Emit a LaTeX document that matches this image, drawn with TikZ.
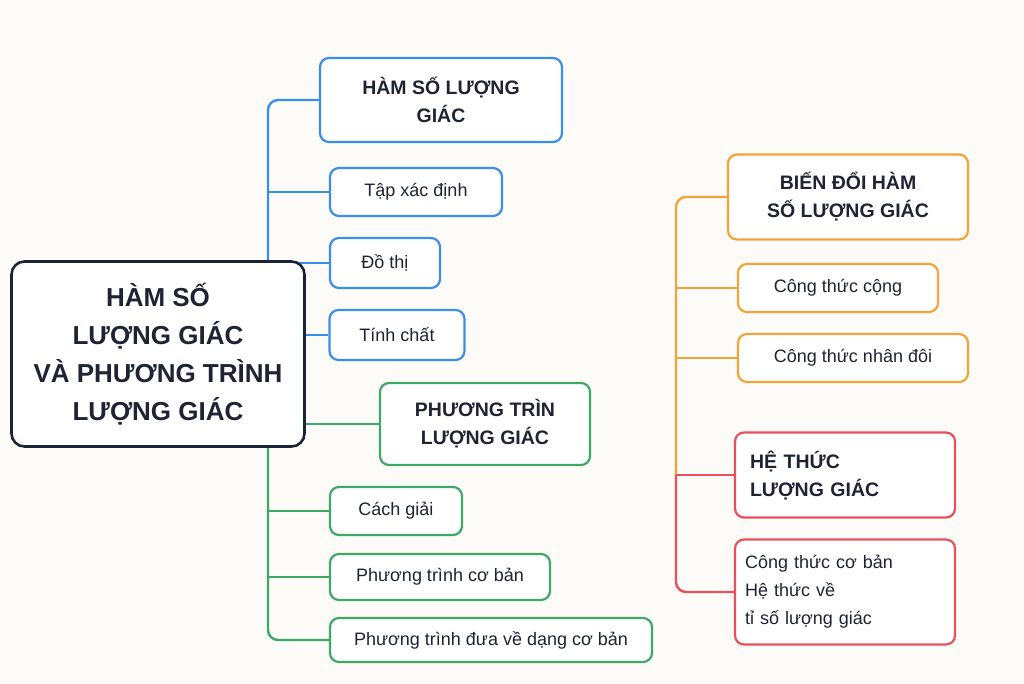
\documentclass[tikz,border=0pt]{standalone}
\usepackage{fontspec}
\setmainfont{Liberation Sans}
\usetikzlibrary{positioning,backgrounds}
\definecolor{bg}{HTML}{FCFBF7}
\definecolor{navy}{HTML}{1B2336}
\definecolor{cblue}{HTML}{3A8EE6}
\definecolor{cgreen}{HTML}{3DA86A}
\definecolor{corange}{HTML}{F2A33A}
\definecolor{cred}{HTML}{E8505B}
\definecolor{ink}{HTML}{1E2433}

\begin{document}
\begin{tikzpicture}[x=1pt,y=-1pt,
    box/.style={draw, rounded corners=9pt, line width=2.2pt, fill=white, text=ink,
      font=\fontsize{18}{22}\selectfont, align=center, inner sep=4pt},
    head/.style={box, font=\fontsize{19.5}{28}\selectfont\bfseries},
    link/.style={line width=2.4pt, rounded corners=10pt}]
    \useasboundingbox (0,0) rectangle (1024,683);

    % centre
    \node[box, draw=navy, line width=2.6pt, rounded corners=13pt, minimum width=293pt, minimum height=185pt,
      font=\fontsize{26}{38}\selectfont\bfseries] (main) at (158,354)
      {HÀM SỐ\\LƯỢNG GIÁC\\VÀ PHƯƠNG TRÌNH\\LƯỢNG GIÁC};

    % blue branch
    \node[head, draw=cblue, minimum width=242pt, minimum height=84pt] (hs) at (441,100) {HÀM SỐ LƯỢNG\\GIÁC};
    \node[box, draw=cblue, minimum width=172pt, minimum height=48pt] (txd) at (416,192) {Tập xác định};
    \node[box, draw=cblue, minimum width=110pt, minimum height=50pt] (dt) at (385,263) {Đồ thị};
    \node[box, draw=cblue, minimum width=135pt, minimum height=50pt] (tc) at (397,335) {Tính chất};

    % green branch
    \node[head, draw=cgreen, minimum width=210pt, minimum height=82pt] (pt) at (485,424) {PHƯƠNG TRÌN\\LƯỢNG GIÁC};
    \node[box, draw=cgreen, minimum width=132pt, minimum height=48pt] (cg) at (396,511) {Cách giải};
    \node[box, draw=cgreen, minimum width=220pt, minimum height=46pt] (ptcb) at (440,577) {Phương trình cơ bản};
    \node[box, draw=cgreen, minimum width=322pt, minimum height=44pt] (ptdv) at (491,640) {Phương trình đưa về dạng cơ bản};

    % orange branch
    \node[head, draw=corange, minimum width=240pt, minimum height=85pt] (bd) at (848,197) {BIẾN ĐỔI HÀM\\SỐ LƯỢNG GIÁC};
    \node[box, draw=corange, minimum width=200pt, minimum height=48pt] (tcc) at (838,288) {Công thức cộng};
    \node[box, draw=corange, minimum width=230pt, minimum height=48pt] (tcn) at (853,358) {Công thức nhân đôi};

    % red branch
    \node[head, draw=cred, minimum width=220pt, minimum height=85pt, align=left, text width=190pt] (ht) at (845,475) {HỆ THỨC\\LƯỢNG GIÁC};
    \node[box, draw=cred, minimum width=220pt, minimum height=105pt, align=left, text width=200pt, font=\fontsize{18}{28}\selectfont] (cb) at (845,592)
      {Công thức cơ bản\\Hệ thức về\\tỉ số lượng giác};

    % connectors
    \begin{pgfonlayer}{background}
    \fill[bg] (0,0) rectangle (1024,683);
    \coordinate (b0) at (268,262);
    \draw[link, cblue] (b0) |- (hs.west);
    \foreach \n in {txd,dt} \draw[link, cblue] (b0 |- \n) -- (\n.west);
    \draw[link, cblue] (main.east |- tc) -- (tc.west);
    \coordinate (g0) at (268,447);
    \draw[link, cgreen] (main.east |- pt) -- (pt.west);
    \draw[link, cgreen] (g0) |- (ptdv.west);
    \foreach \n in {cg,ptcb} \draw[link, cgreen] (g0 |- \n) -- (\n.west);
    \coordinate (o0) at (676,475);
    \draw[link, corange] (o0) |- (bd.west);
    \foreach \n in {tcc,tcn} \draw[link, corange] (o0 |- \n) -- (\n.west);
    \draw[link, cred] (o0) -- (ht.west);
    \draw[link, cred] (o0) |- (cb.west);
    \end{pgfonlayer}
\end{tikzpicture}
\end{document}
